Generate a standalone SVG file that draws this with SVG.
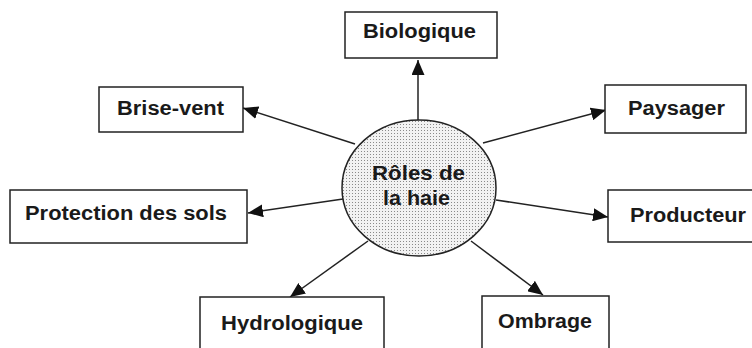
<svg xmlns="http://www.w3.org/2000/svg" width="752" height="348" viewBox="0 0 752 348">
  <style>
    .box { fill: #ffffff; stroke: #222222; stroke-width: 1.5; }
    .lbl { font-family: "Liberation Sans", Arial, sans-serif; font-weight: bold; font-size: 20px; fill: #1a1a1a; text-anchor: middle; }
    .conn { stroke: #222222; stroke-width: 1.5; fill: none; marker-end: url(#arrow); }
  </style>
  <defs>
    <marker id="arrow" markerUnits="userSpaceOnUse" markerWidth="16" markerHeight="13" refX="15" refY="6.5" orient="auto">
      <path d="M0,0 L15,6.5 L0,13 z" fill="#111111"/>
    </marker>
    <pattern id="dots" width="3" height="3" patternUnits="userSpaceOnUse">
      <rect width="3" height="3" fill="#f2f2f2"/>
      <rect x="1" y="1" width="1" height="1" fill="#8a8a8a"/>
    </pattern>
  </defs>
  <rect width="752" height="348" fill="#ffffff"/>

  <g id="connectors">
    <line class="conn" x1="418" y1="120" x2="418" y2="60"/>
    <line class="conn" x1="483" y1="143" x2="606" y2="110"/>
    <line class="conn" x1="355" y1="144" x2="243" y2="108"/>
    <line class="conn" x1="343" y1="199" x2="248" y2="213"/>
    <line class="conn" x1="368" y1="241" x2="290" y2="297"/>
    <line class="conn" x1="496" y1="200" x2="608" y2="217"/>
    <line class="conn" x1="471" y1="241" x2="543" y2="295"/>
  </g>

  <g id="center">
    <ellipse cx="419" cy="188" rx="77" ry="68" fill="url(#dots)" stroke="#222222" stroke-width="1.5"/>
    <text class="lbl" x="418.5" y="180" font-size="21" textLength="93" lengthAdjust="spacingAndGlyphs">Rôles de</text>
    <text class="lbl" x="416.5" y="205" font-size="21" textLength="67" lengthAdjust="spacingAndGlyphs">la haie</text>
  </g>

  <g id="biologique">
    <rect class="box" x="345" y="12" width="152" height="46"/>
    <text class="lbl" x="419.5" y="38" textLength="113" lengthAdjust="spacingAndGlyphs">Biologique</text>
  </g>

  <g id="brise-vent">
    <rect class="box" x="99" y="87" width="144" height="45"/>
    <text class="lbl" x="170.5" y="115" textLength="107" lengthAdjust="spacingAndGlyphs">Brise-vent</text>
  </g>

  <g id="paysager">
    <rect class="box" x="605" y="85" width="141" height="48"/>
    <text class="lbl" x="676.5" y="115" textLength="97" lengthAdjust="spacingAndGlyphs">Paysager</text>
  </g>

  <g id="protection">
    <rect class="box" x="10" y="190" width="237" height="53"/>
    <text class="lbl" x="126" y="220" textLength="202" lengthAdjust="spacingAndGlyphs">Protection des sols</text>
  </g>

  <g id="producteur">
    <rect class="box" x="608" y="190" width="160" height="52"/>
    <text class="lbl" x="688" y="222" textLength="116" lengthAdjust="spacingAndGlyphs">Producteur</text>
  </g>

  <g id="hydrologique">
    <rect class="box" x="200" y="297" width="184" height="70"/>
    <text class="lbl" x="292" y="330" textLength="142" lengthAdjust="spacingAndGlyphs">Hydrologique</text>
  </g>

  <g id="ombrage">
    <rect class="box" x="482" y="296" width="127" height="70"/>
    <text class="lbl" x="545" y="328" textLength="94" lengthAdjust="spacingAndGlyphs">Ombrage</text>
  </g>
</svg>
